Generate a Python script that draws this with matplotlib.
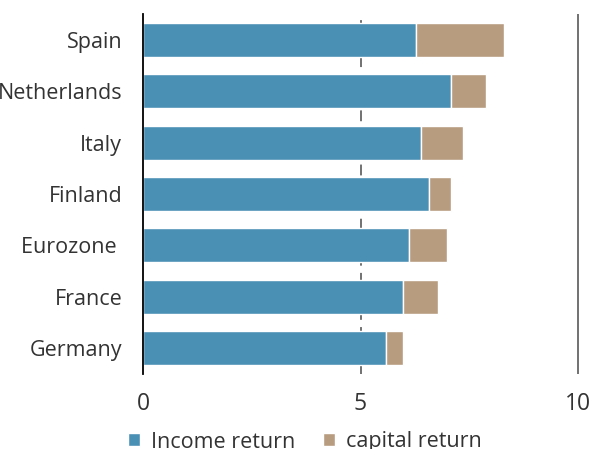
import matplotlib
matplotlib.use("Agg")
import matplotlib.pyplot as plt
import numpy as np

categories = ["Spain", "Netherlands", "Italy", "Finland", "Eurozone ", "France", "Germany"]
income_return = [6.28, 7.08, 6.39, 6.57, 6.11, 5.98, 5.59]
capital_return = [2.02, 0.81, 0.97, 0.51, 0.88, 0.80, 0.39]
xticks = [0, 5, 10]

plt.rcParams['font.family'] = ['Open Sans', 'DejaVu Sans']
text_color = '#333333'
blue = '#4A90B5'
tan = '#B89C80'

fig = plt.figure(figsize=(5.92, 4.49), dpi=100)
ax = fig.add_axes([143/592, 1-374/449, (585-143)/592, 360/449])

y = np.arange(len(categories))
ax.barh(y, income_return, height=0.66, color=blue, edgecolor='white', linewidth=1, label='Income return', zorder=3)
ax.barh(y, capital_return, left=income_return, height=0.66, color=tan, edgecolor='white', linewidth=1, label='capital return', zorder=3)

ax.set_ylim(len(categories)-0.5, -0.5)
ax.set_xlim(0, 10*(585-143)/(578-143))
ax.set_yticks(y)
ax.set_yticklabels(categories, fontsize=15.5, color=text_color)
ax.set_xticks(xticks)
ax.set_xticklabels([str(t) for t in xticks], fontsize=16.5, color=text_color)
ax.tick_params(axis='both', length=0)
ax.tick_params(axis='y', pad=15)
ax.tick_params(axis='x', pad=13)

ax.axvline(5, color='#666666', linestyle=(0, (6, 4)), linewidth=1.3, zorder=1)
ax.axvline(10, color='#666666', linewidth=1.3, zorder=1)

for s in ['top', 'right', 'bottom']:
    ax.spines[s].set_visible(False)
ax.spines['left'].set_color('black')
ax.spines['left'].set_linewidth(1.3)
ax.spines['left'].set_zorder(4)

fig.legend(loc='center', bbox_to_anchor=(305/592, 1-442/449), ncol=2, frameon=False,
           fontsize=15.5, handlelength=0.55, handleheight=0.55, columnspacing=1.3,
           handletextpad=0.5, labelcolor=text_color, borderpad=0)

fig.savefig('out.png', dpi=100)
